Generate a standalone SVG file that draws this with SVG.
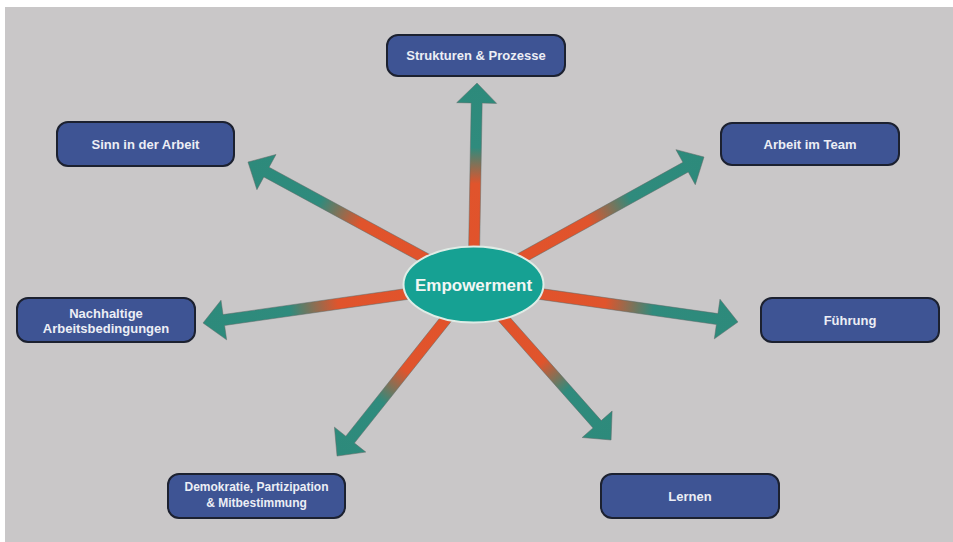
<svg xmlns="http://www.w3.org/2000/svg" width="953" height="542" viewBox="0 0 953 542">
  <defs>
    <linearGradient id="arrowGrad" x1="0" y1="0" x2="1" y2="0">
      <stop offset="0" stop-color="#e2522b"/>
      <stop offset="0.5" stop-color="#e0542c"/>
      <stop offset="0.68" stop-color="#2f8b7d"/>
      <stop offset="1" stop-color="#2d8a7b"/>
    </linearGradient>
    <style>
      .box { fill: #3e5494; stroke: #1c2130; stroke-width: 2; }
      .lbl { fill: #eceef5; font-family: "Liberation Sans", Arial, sans-serif; font-weight: bold; font-size: 13px; text-anchor: middle; }
      .lbl12 { font-size: 12px; }
      .arrow { fill: url(#arrowGrad); stroke: #5d6b68; stroke-width: 0.8; stroke-opacity: 0.6; }
      .hub { fill: #16a193; stroke: #dfece6; stroke-width: 2; }
      .hubtxt { fill: #f2f6f4; font-family: "Liberation Sans", Arial, sans-serif; font-weight: bold; font-size: 17px; text-anchor: middle; }
    </style>
  </defs>

  <rect x="0" y="0" width="953" height="542" fill="#ffffff"/>
  <rect x="5" y="7" width="948" height="535" fill="#c9c7c8"/>

  <g id="connectors">
    <!-- up: Strukturen & Prozesse -->
    <polygon class="arrow" transform="translate(473.5,284.5) rotate(-89)" points="0,-5.5 181.5,-5.5 181.5,-20 201.5,0 181.5,20 181.5,5.5 0,5.5"/>
    <!-- Sinn in der Arbeit -->
    <polygon class="arrow" transform="translate(473.5,284.5) rotate(-151.5)" points="0,-5.5 235.6,-5.5 235.6,-20 256.6,0 235.6,20 235.6,5.5 0,5.5"/>
    <!-- Arbeit im Team -->
    <polygon class="arrow" transform="translate(473.5,284.5) rotate(-28.95)" points="0,-5.5 242.4,-5.5 242.4,-20 263.4,0 242.4,20 242.4,5.5 0,5.5"/>
    <!-- Nachhaltige Arbeitsbedingungen -->
    <polygon class="arrow" transform="translate(473.5,284.5) rotate(171.9)" points="0,-5.5 252.2,-5.5 252.2,-20 273.2,0 252.2,20 252.2,5.5 0,5.5"/>
    <!-- Führung -->
    <polygon class="arrow" transform="translate(473.5,284.5) rotate(8.07)" points="0,-5.5 246.1,-5.5 246.1,-20 267.1,0 246.1,20 246.1,5.5 0,5.5"/>
    <!-- Demokratie -->
    <polygon class="arrow" transform="translate(473.5,284.5) rotate(128.5)" points="0,-5.5 198.2,-5.5 198.2,-20 219.2,0 198.2,20 198.2,5.5 0,5.5"/>
    <!-- Lernen -->
    <polygon class="arrow" transform="translate(473.5,284.5) rotate(48.5)" points="0,-5.5 186.6,-5.5 186.6,-20 207.6,0 186.6,20 186.6,5.5 0,5.5"/>
  </g>

  <g id="empowerment">
    <ellipse class="hub" cx="473.5" cy="284.5" rx="70" ry="38"/>
    <text class="hubtxt" x="473.5" y="290.5">Empowerment</text>
  </g>

  <g id="strukturen">
    <rect class="box" x="387" y="35" width="178" height="41" rx="11"/>
    <text class="lbl" x="476" y="60">Strukturen &amp; Prozesse</text>
  </g>

  <g id="team">
    <rect class="box" x="721" y="123" width="178" height="42" rx="11"/>
    <text class="lbl" x="810" y="148.5">Arbeit im Team</text>
  </g>

  <g id="fuehrung">
    <rect class="box" x="761" y="298" width="178" height="44" rx="11"/>
    <text class="lbl" x="850" y="324.5">Führung</text>
  </g>

  <g id="lernen">
    <rect class="box" x="601" y="474" width="178" height="44" rx="11"/>
    <text class="lbl" x="690" y="500.5">Lernen</text>
  </g>

  <g id="sinn">
    <rect class="box" x="57" y="122" width="177" height="44" rx="11"/>
    <text class="lbl" x="145.5" y="148.5">Sinn in der Arbeit</text>
  </g>

  <g id="nachhaltige">
    <rect class="box" x="17" y="298" width="178" height="44" rx="11"/>
    <text class="lbl" x="106" y="317.5">Nachhaltige</text>
    <text class="lbl" x="106" y="332.5">Arbeitsbedingungen</text>
  </g>

  <g id="demokratie">
    <rect class="box" x="168" y="474" width="177" height="44" rx="11"/>
    <text class="lbl lbl12" x="256.5" y="491">Demokratie, Partizipation</text>
    <text class="lbl lbl12" x="256.5" y="507">&amp; Mitbestimmung</text>
  </g>
</svg>
